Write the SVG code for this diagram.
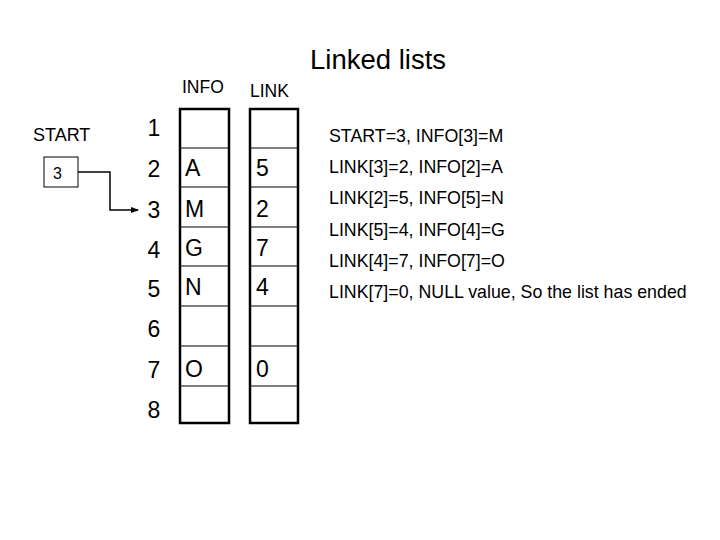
<svg xmlns="http://www.w3.org/2000/svg" width="720" height="540" viewBox="0 0 720 540">
<style>
text{font-family:"Liberation Sans",Arial,sans-serif;fill:#000}
.idx{font-size:23px;text-anchor:middle}
.cv{font-size:23px}
.note{font-size:17.8px}
.col{fill:none;stroke:#000;stroke-width:2.5}
.row{stroke:#000;stroke-width:1.2}
</style>
<defs><marker id="ah" markerWidth="8" markerHeight="8" refX="7" refY="4" orient="auto" markerUnits="userSpaceOnUse"><path d="M0,1 L8,4 L0,7 Z" fill="#000"/></marker></defs>
<rect width="720" height="540" fill="#fff"/>
<text x="310" y="69" font-size="27.5">Linked lists</text>
<text x="182" y="93" font-size="17.5">INFO</text>
<text x="250" y="97" font-size="17.5">LINK</text>
<text x="33" y="141" font-size="18">START</text>
<g id="start"><rect x="44" y="157" width="34" height="30" fill="#fff" stroke="#000" stroke-width="1"/><text x="53" y="179" font-size="16">3</text></g>
<g id="connectors"><path d="M78,172 H110 V210 H138" fill="none" stroke="#000" stroke-width="1.5" marker-end="url(#ah)"/></g>
<g id="info">
<rect class="col" x="180" y="109" width="49" height="314"/>
<path class="row" d="M180,148H229M180,187H229M180,227H229M180,266H229M180,306H229M180,346H229M180,386H229"/>
<text class="cv" x="185" y="176">A</text><text class="cv" x="185" y="217">M</text><text class="cv" x="185" y="256">G</text><text class="cv" x="185" y="295">N</text><text class="cv" x="185" y="377">O</text>
</g>
<g id="link">
<rect class="col" x="250" y="109" width="48" height="314"/>
<path class="row" d="M250,148H298M250,187H298M250,227H298M250,266H298M250,306H298M250,346H298M250,386H298"/>
<text class="cv" x="256" y="176">5</text><text class="cv" x="256" y="217">2</text><text class="cv" x="256" y="256">7</text><text class="cv" x="256" y="295">4</text><text class="cv" x="256" y="377">0</text>
</g>
<g id="indices">
<text class="idx" x="154" y="136">1</text><text class="idx" x="154" y="177">2</text><text class="idx" x="154" y="218">3</text><text class="idx" x="154" y="258">4</text><text class="idx" x="154" y="297">5</text><text class="idx" x="154" y="337">6</text><text class="idx" x="154" y="378">7</text><text class="idx" x="154" y="418">8</text>
</g>
<g id="notes">
<text class="note" x="329" y="142">START=3, INFO[3]=M</text>
<text class="note" x="329" y="173">LINK[3]=2, INFO[2]=A</text>
<text class="note" x="329" y="204">LINK[2]=5, INFO[5]=N</text>
<text class="note" x="329" y="236">LINK[5]=4, INFO[4]=G</text>
<text class="note" x="329" y="267">LINK[4]=7, INFO[7]=O</text>
<text class="note" x="329" y="298">LINK[7]=0, NULL value, So the list has ended</text>
</g>
</svg>
